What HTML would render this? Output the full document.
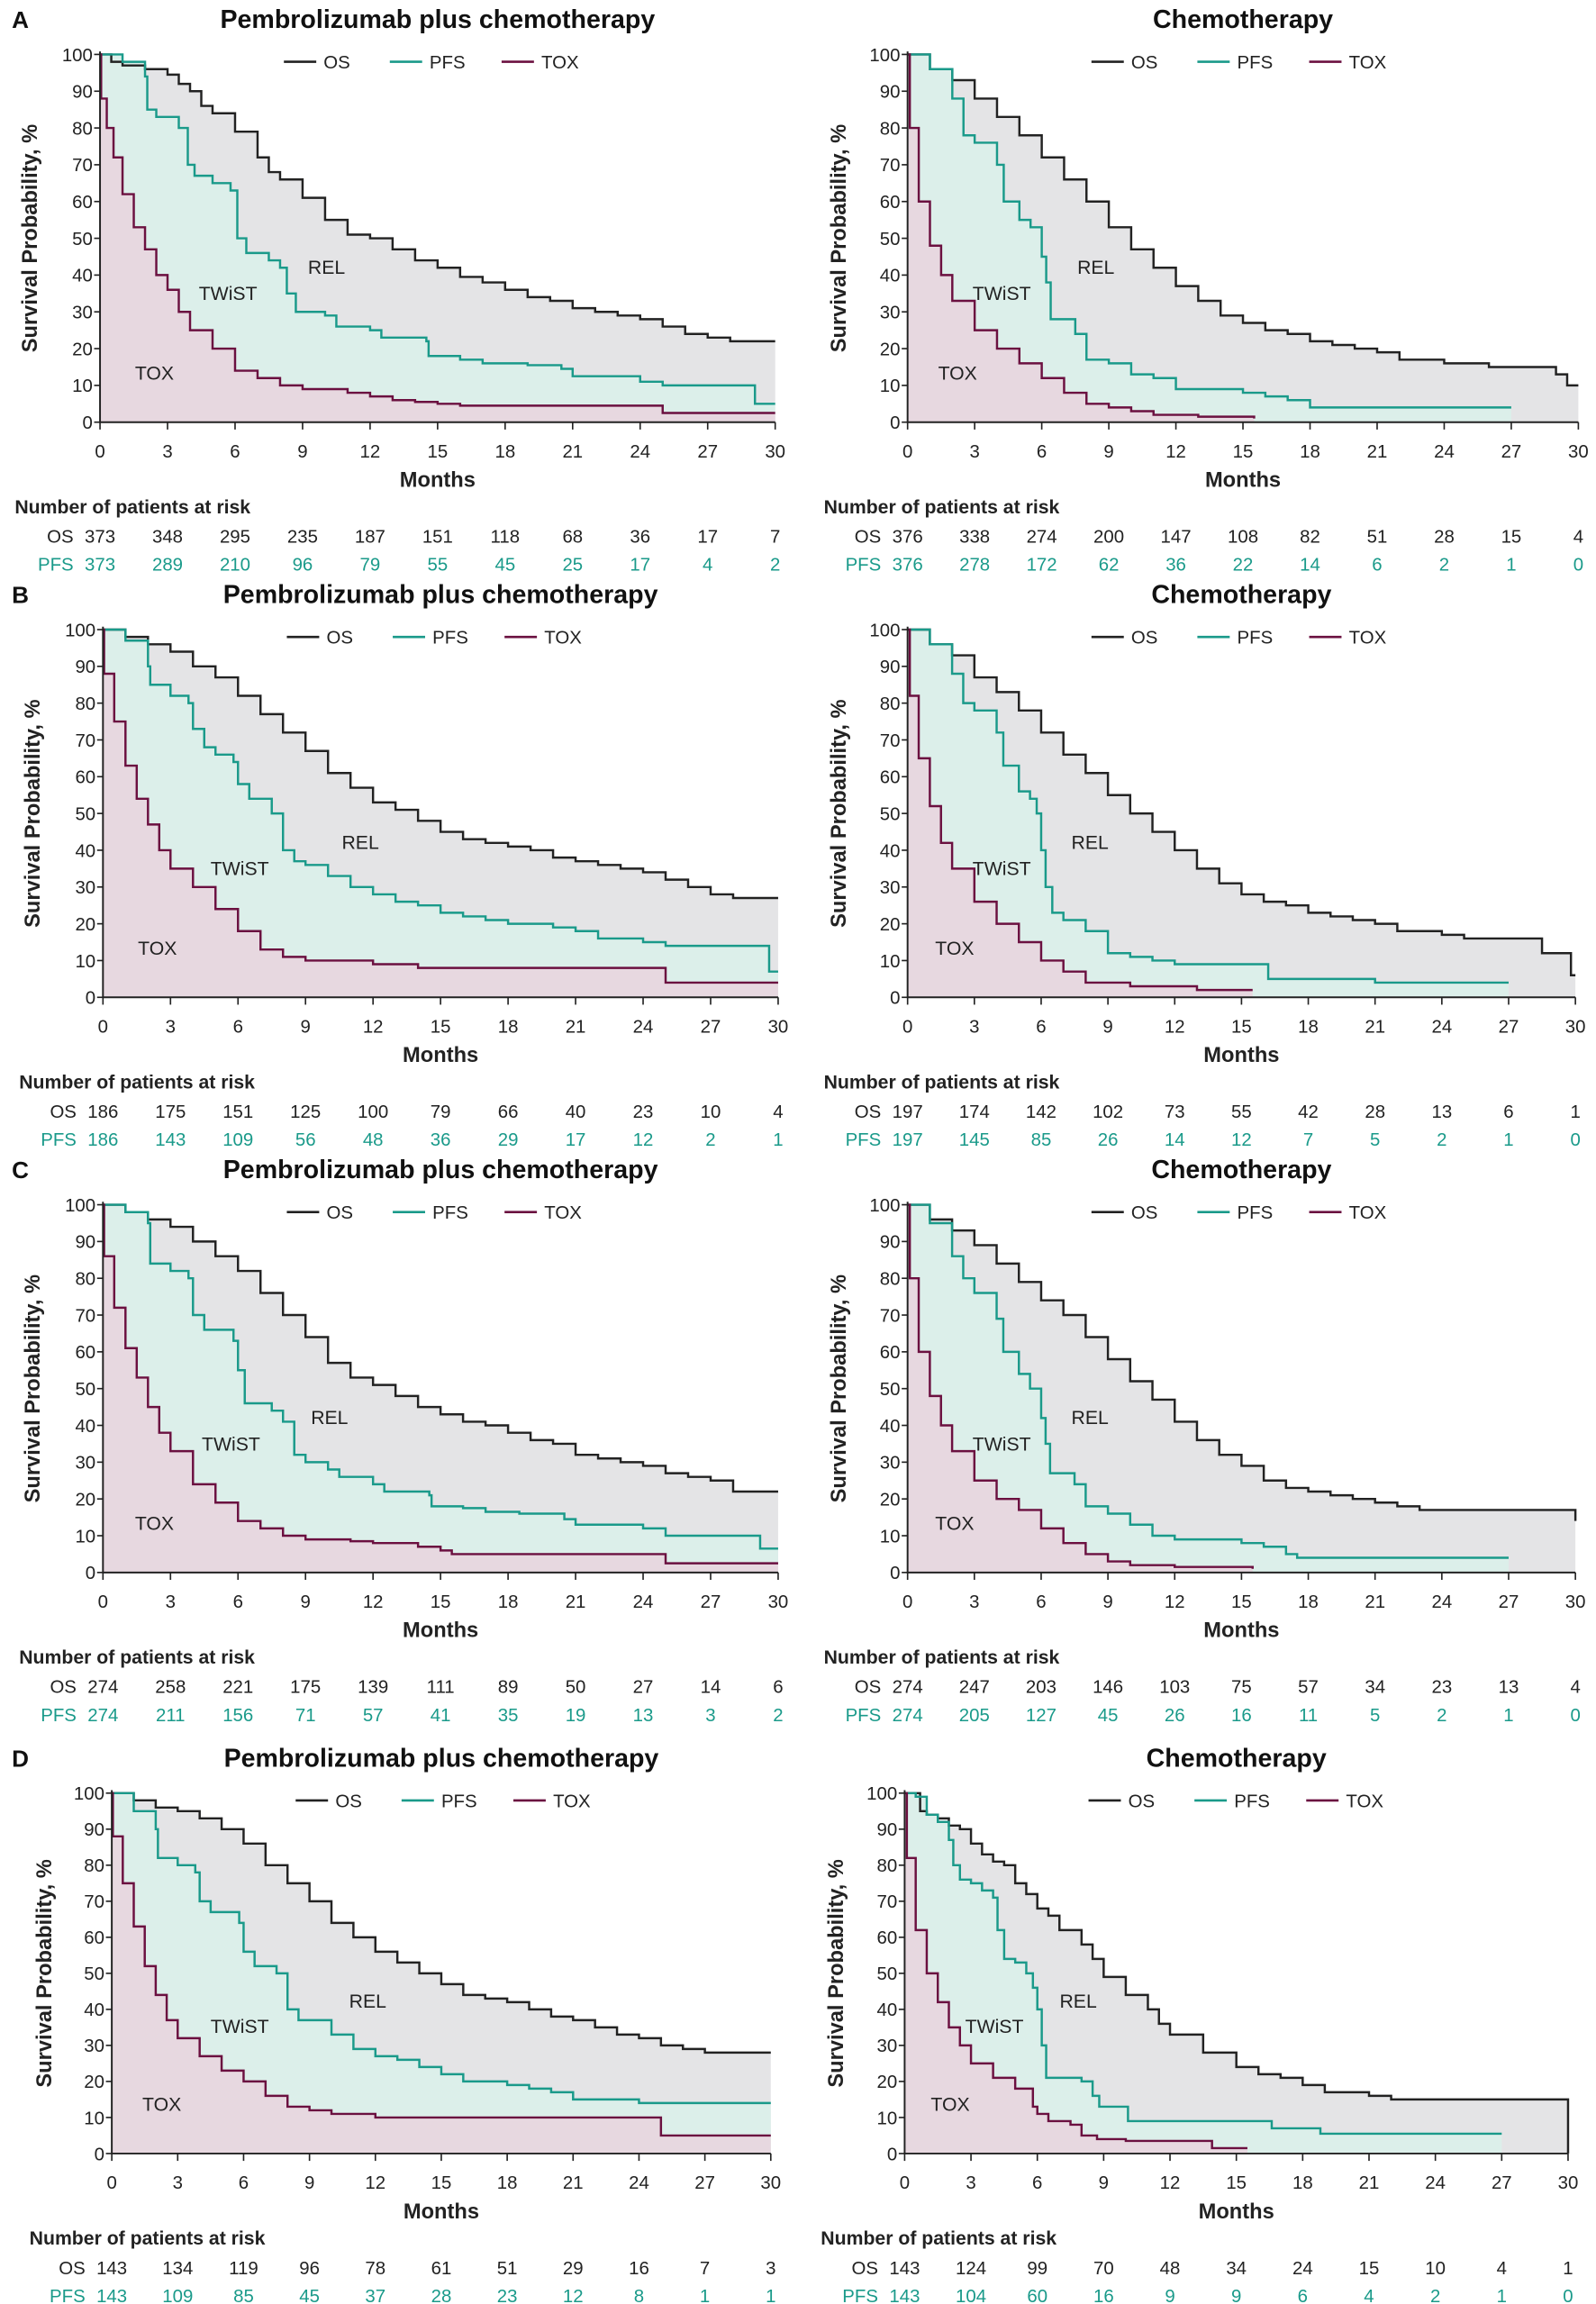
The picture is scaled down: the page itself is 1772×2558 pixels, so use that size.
<!DOCTYPE html>
<html><head><meta charset="utf-8"><style>
html,body{margin:0;padding:0;background:#fff}
svg{display:block}
text{font-family:"Liberation Sans",Arial,sans-serif}
</style></head><body>
<svg id="fig" width="1772" height="2558" viewBox="0 0 1085 1566.3" preserveAspectRatio="none" xmlns="http://www.w3.org/2000/svg"></svg>
<script>
// ---- data arrays (time in months, survival %) ----
const xTicks = [0,3,6,9,12,15,18,21,24,27,30];
const yTicks = [0,10,20,30,40,50,60,70,80,90,100];

const A_L_OS = [[0,100],[0.5,98],[1,97],[2,96],[3,94.5],[3.5,92],[4,90],[4.5,86],[5,84],[6,79],[7,72],[7.5,68],[8,66],[9,61],[10,55],[11,51],[12,50],[13,47],[14,44],[15,42],[16,39.5],[17,38],[18,36],[19,34],[20,33],[21,31],[22,30],[23,29],[24,28],[25,26],[26,24],[27,23],[28,22],[30,22]];
const A_L_PFS = [[0,100],[1,98],[2,94],[2.1,85],[2.5,83],[3.5,80],[3.9,70],[4.2,67],[5,65],[5.8,63],[6.1,50],[6.5,46],[7.5,44],[8,42],[8.3,35],[8.7,30],[10,29],[10.5,26],[12,25],[12.5,23],[14.5,22],[14.6,18],[16,17],[17,16],[19,15.5],[20.5,14.5],[21,12.5],[24,11],[25,10],[29,10],[29.1,5],[30,5]];
const A_L_TOX = [[0,100],[0.05,88],[0.3,80],[0.6,72],[1,62],[1.5,53],[2,47],[2.5,40],[3,36],[3.5,30],[4,25],[5,20],[6,14],[7,12],[8,10],[9,9],[11,8],[12,7],[13,6],[14,5.5],[15,5],[16,4.5],[24.8,4.5],[25,2.5],[30,2.5]];

const A_R_OS = [[0,100],[1,96],[2,93],[3,88],[4,83],[5,78],[6,72],[7,66],[8,60],[9,53],[10,47],[11,42],[12,37],[13,33],[14,29],[15,27],[16,25],[17,24],[18,22],[19,21],[20,20],[21,19],[22,17],[24,16],[26,15],[28,15],[29,13],[29.5,10],[30,10]];
const A_R_PFS = [[0,100],[1,96],[2,88],[2.5,78],[3,76],[4,70],[4.3,60],[5,55],[5.5,53],[6,45],[6.2,38],[6.4,28],[7,28],[7.5,24],[8,17],[9,16],[10,13],[11,12],[12,9],[15,8],[16,7],[17,6],[18,4],[27,4]];
const A_R_TOX = [[0,100],[0.1,80],[0.5,60],[1,48],[1.5,40],[2,33],[3,25],[4,20],[5,16],[6,12],[7,8],[8,5],[9,4],[10,3],[11,2],[13,1.5],[15.5,1]];

const B_L_OS = [[0,100],[1,98],[2,96],[3,94],[4,90],[5,87],[6,82],[7,77],[8,72],[9,67],[10,61],[11,57],[12,53],[13,51],[14,48],[15,45],[16,43],[17,42],[18,41],[19,40],[20,38],[21,37],[22,36],[23,35],[24,34],[25,32],[26,30],[27,28],[28,27],[30,27]];
const B_L_PFS = [[0,100],[1,97],[2,90],[2.1,85],[3,82],[3.8,80],[4,73],[4.5,68],[5,66],[5.8,64],[6,58],[6.5,54],[7.5,50],[8,40],[8.5,37],[9,36],[10,33],[11,30],[12,28],[13,26],[14,25],[15,23],[16,22],[17,21],[18,20],[20,19],[21,18],[22,16],[24,15],[25,14],[29.5,14],[29.6,7],[30,7]];
const B_L_TOX = [[0,100],[0.05,88],[0.5,75],[1,63],[1.5,54],[2,47],[2.5,40],[3,35],[4,30],[5,24],[6,18],[7,13],[8,11],[9,10],[11,10],[12,9],[14,8],[24.8,8],[25,4],[30,4]];

const B_R_OS = [[0,100],[1,96],[2,93],[3,87],[4,83],[5,78],[6,72],[7,66],[8,61],[9,55],[10,50],[11,45],[12,40],[13,35],[14,31],[15,28],[16,26],[17,25],[18,23],[19,22],[20,21],[21,20],[22,18],[24,17],[25,16],[28,16],[28.5,12],[29.5,12],[29.8,6],[30,6]];
const B_R_PFS = [[0,100],[1,96],[2,88],[2.5,80],[3,78],[4,72],[4.3,63],[5,56],[5.5,54],[5.8,50],[6,40],[6.2,30],[6.5,23],[7,21],[8,18],[9,12],[10,11],[11,10],[12,9],[16,9],[16.2,5],[20,5],[21,4],[27,4]];
const B_R_TOX = [[0,100],[0.1,82],[0.5,65],[1,52],[1.5,42],[2,35],[3,26],[4,20],[5,15],[6,10],[7,7],[8,4],[10,3],[12,3],[13,2],[15.5,2]];

const C_L_OS = [[0,100],[1,98],[2,96],[3,94],[4,90],[5,86],[6,82],[7,76],[8,70],[9,64],[10,57],[11,53],[12,51],[13,48],[14,45],[15,43],[16,41],[17,40],[18,38],[19,36],[20,35],[21,32],[22,31],[23,30],[24,29],[25,27],[26,26],[27,25],[28,22],[30,22]];
const C_L_PFS = [[0,100],[1,98],[2,95],[2.1,84],[3,82],[3.8,80],[4,70],[4.5,66],[5.8,63],[6,55],[6.3,46],[7.5,44],[8,41],[8.5,32],[9,30],[10,28],[10.5,26],[12,24],[12.5,22],[14.5,21],[14.6,18],[16,17.5],[17,16.5],[18.5,16],[20.5,14.5],[21,13],[24,12],[25,10],[29,10],[29.2,6.5],[30,6.5]];
const C_L_TOX = [[0,100],[0.05,86],[0.5,72],[1,61],[1.5,53],[2,45],[2.5,38],[3,33],[4,24],[5,19],[6,14],[7,12],[8,10],[9,9],[11,8.5],[12,8],[14,7],[15,6],[15.5,5],[24.8,5],[25,2.5],[30,2.5]];

const C_R_OS = [[0,100],[1,96],[2,93],[3,89],[4,84],[5,79],[6,74],[7,70],[8,64],[9,58],[10,52],[11,47],[12,41],[13,36],[14,32],[15,29],[16,25],[17,23],[18,22],[19,21],[20,20],[21,19],[22,18],[23,17],[29.8,17],[30,14]];
const C_R_PFS = [[0,100],[1,95],[2,86],[2.5,80],[3,76],[4,69],[4.3,60],[5,54],[5.5,50],[6,42],[6.2,35],[6.4,27],[7,27],[7.5,24],[8,18],[9,16],[10,13],[11,10],[12,9],[15,8],[16,7],[17,5],[17.5,4],[27,4]];
const C_R_TOX = [[0,100],[0.1,80],[0.5,60],[1,48],[1.5,40],[2,33],[3,25],[4,20],[5,17],[6,12],[7,8],[8,5],[9,3],[10,2],[12,1.5],[15.5,1]];

const D_L_OS = [[0,100],[1,98],[2,96],[3,95],[4,93],[5,90],[6,86],[7,80],[8,75],[9,70],[10,64],[11,60],[12,56],[13,53],[14,50],[15,47],[16,44],[17,43],[18,42],[19,40],[20,38],[21,37],[22,35],[23,33],[24,32],[25,30],[26,29],[27,28],[30,28]];
const D_L_PFS = [[0,100],[1,95],[2,90],[2.1,82],[3,80],[3.8,78],[4,70],[4.5,67],[5.8,64],[6,56],[6.5,52],[7.5,50],[8,40],[8.5,37],[10,33],[11,29],[12,27],[13,26],[14,24],[15,22],[16,20],[18,19],[19,18],[20,17],[21,15],[24,14],[30,14]];
const D_L_TOX = [[0,100],[0.05,88],[0.5,75],[1,63],[1.5,52],[2,44],[2.5,37],[3,32],[4,27],[5,23],[6,20],[7,16],[8,13],[9,12],[10,11],[12,10],[24.8,10],[25,5],[30,5]];

const D_R_OS = [[0,100],[0.7,95],[1,94],[1.5,93],[2,91],[2.5,90],[3,86],[3.5,83],[4,81],[4.5,80],[5,75],[5.5,72],[6,68],[6.5,66],[7,62],[8,58],[8.5,54],[9,49],[10,44],[11,40],[11.5,36],[12,33],[13,33],[13.5,28],[14,28],[15,24],[16,22],[17,21],[18,19],[19,17],[20,17],[21,16],[22,15],[30,15],[30,0]];
const D_R_PFS = [[0,100],[0.5,99],[1,94],[1.5,92],[2,87],[2.2,80],[2.5,76],[3,75],[3.5,73],[4,71],[4.2,62],[4.5,54],[5,53],[5.5,50],[5.8,46],[6,40],[6.2,30],[6.4,21],[8,20],[8.5,16],[8.8,13],[10,13],[10.1,9],[16.4,9],[16.6,7],[18.5,7],[18.8,5.5],[27,5.5]];
const D_R_TOX = [[0,100],[0.1,82],[0.5,62],[1,50],[1.5,42],[2,35],[2.5,30],[3,25],[4,21],[5,18],[5.7,18],[5.8,13],[6,11],[6.5,9],[7.5,8],[8,5],[8.7,4],[10,3.5],[13.8,3.5],[13.9,1.5],[15.5,1.5]];

const A_L_RISK_OS = [373,348,295,235,187,151,118,68,36,17,7];
const A_L_RISK_PFS = [373,289,210,96,79,55,45,25,17,4,2];
const A_R_RISK_OS = [376,338,274,200,147,108,82,51,28,15,4];
const A_R_RISK_PFS = [376,278,172,62,36,22,14,6,2,1,0];
const B_L_RISK_OS = [186,175,151,125,100,79,66,40,23,10,4];
const B_L_RISK_PFS = [186,143,109,56,48,36,29,17,12,2,1];
const B_R_RISK_OS = [197,174,142,102,73,55,42,28,13,6,1];
const B_R_RISK_PFS = [197,145,85,26,14,12,7,5,2,1,0];
const C_L_RISK_OS = [274,258,221,175,139,111,89,50,27,14,6];
const C_L_RISK_PFS = [274,211,156,71,57,41,35,19,13,3,2];
const C_R_RISK_OS = [274,247,203,146,103,75,57,34,23,13,4];
const C_R_RISK_PFS = [274,205,127,45,26,16,11,5,2,1,0];
const D_L_RISK_OS = [143,134,119,96,78,61,51,29,16,7,3];
const D_L_RISK_PFS = [143,109,85,45,37,28,23,12,8,1,1];
const D_R_RISK_OS = [143,124,99,70,48,34,24,15,10,4,1];
const D_R_RISK_PFS = [143,104,60,16,9,9,6,4,2,1,0];

const COL_OS='#222222', COL_PFS='#1a9a8a', COL_TOX='#6b1040';
const NS='http://www.w3.org/2000/svg';
const svg=document.getElementById('fig');
function el(tag,attrs,parent,txt){const e=document.createElementNS(NS,tag);for(const k in attrs)e.setAttribute(k,attrs[k]);if(txt!==undefined)e.textContent=txt;(parent||svg).appendChild(e);return e;}

function stepPath(pts,sx,sy){let d='M'+sx(pts[0][0])+' '+sy(pts[0][1]);for(let i=1;i<pts.length;i++){d+=' H'+sx(pts[i][0])+' V'+sy(pts[i][1]);}return d;}
function areaPath(pts,sx,sy){const last=pts[pts.length-1][0];return stepPath(pts,sx,sy)+' H'+sx(last)+' V'+sy(0)+' H'+sx(0)+' Z';}

const panels=[
 {id:'a',letter:'A',off:0,plots:[
  {side:'l',x0:68,x1:527,y100:37,y0:287,os:A_L_OS,pfs:A_L_PFS,tox:A_L_TOX,ros:A_L_RISK_OS,rpfs:A_L_RISK_PFS,title:'Pembrolizumab plus chemotherapy',ylx:20,hx:10,lab:[[222,181],[155,199],[105,253]]},
  {side:'r',x0:617,x1:1073,y100:37,y0:287,os:A_R_OS,pfs:A_R_PFS,tox:A_R_TOX,ros:A_R_RISK_OS,rpfs:A_R_RISK_PFS,title:'Chemotherapy',ylx:570,hx:560,lab:[[745,181],[681,199],[651,253]]}]},
 {id:'b',letter:'B',off:391,plots:[
  {side:'l',x0:70,x1:529,y100:428,y0:678,os:B_L_OS,pfs:B_L_PFS,tox:B_L_TOX,ros:B_L_RISK_OS,rpfs:B_L_RISK_PFS,title:'Pembrolizumab plus chemotherapy',ylx:22,hx:13,lab:[[245,572],[163,590],[107,644]]},
  {side:'r',x0:617,x1:1071,y100:428,y0:678,os:B_R_OS,pfs:B_R_PFS,tox:B_R_TOX,ros:B_R_RISK_OS,rpfs:B_R_RISK_PFS,title:'Chemotherapy',ylx:570,hx:560,lab:[[741,572],[681,590],[649,644]]}]},
 {id:'c',letter:'C',off:782,plots:[
  {side:'l',x0:70,x1:529,y100:819,y0:1069,os:C_L_OS,pfs:C_L_PFS,tox:C_L_TOX,ros:C_L_RISK_OS,rpfs:C_L_RISK_PFS,title:'Pembrolizumab plus chemotherapy',ylx:22,hx:13,lab:[[224,963],[157,981],[105,1035]]},
  {side:'r',x0:617,x1:1071,y100:819,y0:1069,os:C_R_OS,pfs:C_R_PFS,tox:C_R_TOX,ros:C_R_RISK_OS,rpfs:C_R_RISK_PFS,title:'Chemotherapy',ylx:570,hx:560,lab:[[741,963],[681,981],[649,1035]]}]},
 {id:'d',letter:'D',off:1182,plots:[
  {side:'l',x0:76,x1:524,y100:1219,y0:1464,os:D_L_OS,pfs:D_L_PFS,tox:D_L_TOX,ros:D_L_RISK_OS,rpfs:D_L_RISK_PFS,title:'Pembrolizumab plus chemotherapy',ylx:30,hx:20,lab:[[250,1360],[163,1377],[110,1430]]},
  {side:'r',x0:615,x1:1066,y100:1219,y0:1464,os:D_R_OS,pfs:D_R_PFS,tox:D_R_TOX,ros:D_R_RISK_OS,rpfs:D_R_RISK_PFS,title:'Chemotherapy',ylx:568,hx:558,lab:[[733,1360],[676,1377],[646,1430]]}]}
];

panels.forEach(P=>{
  const g=el('g',{});
  
  
  const isD=P.id==='d';
  const lt=el('text',{x:8,y:(isD?1201:19+P.off),'font-size':16,'font-weight':'bold',fill:'#111'},g,P.letter);
  
  
  P.plots.forEach(p=>{
    const sx=t=>p.x0+(t/30)*(p.x1-p.x0);
    const sy=v=>p.y0-(v/100)*(p.y0-p.y100);
    const pg=el('g',{},g);
    
    
    const cx=(p.x0+p.x1)/2;
    const titleY=p.y100-18;
    const tt=el('text',{x:cx,y:titleY,'text-anchor':'middle','font-size':17.5,'font-weight':'bold',fill:'#111'},pg,p.title);
    
    
    // areas
    const aOS=el('path',{d:areaPath(p.os,sx,sy),fill:'#e4e4e6'},pg);
    
    
    const aP=el('path',{d:areaPath(p.pfs,sx,sy),fill:'#dcefea'},pg);
    
    
    const aT=el('path',{d:areaPath(p.tox,sx,sy),fill:'#e7d8e0'},pg);
    
    
    // curves
    [[p.os,COL_OS,'os-curve'],[p.pfs,COL_PFS,'pfs-curve'],[p.tox,COL_TOX,'tox-curve']].forEach(([pts,c,n])=>{
      const l=el('path',{d:stepPath(pts,sx,sy),fill:'none',stroke:c,'stroke-width':1.5},pg);
      
      
    });
    // axes
    const ax=el('path',{d:`M${p.x0} ${p.y100-2} V${p.y0} H${p.x1}`,fill:'none',stroke:'#222','stroke-width':1.2},pg);
    
    
    yTicks.forEach(v=>{
      el('line',{x1:p.x0-4,x2:p.x0,y1:sy(v),y2:sy(v),stroke:'#222','stroke-width':1},pg);
      const t=el('text',{x:p.x0-5,y:sy(v)+4.5,'text-anchor':'end','font-size':12.5,fill:'#222'},pg,String(v));
      
      
    });
    xTicks.forEach((m,i)=>{
      el('line',{x1:sx(m),x2:sx(m),y1:p.y0,y2:p.y0+5,stroke:'#222','stroke-width':1},pg);
      const t=el('text',{x:sx(m),y:p.y0+24,'text-anchor':'middle','font-size':12.5,fill:'#222'},pg,String(m));
      
      
      const r1=el('text',{x:sx(m),y:p.y0+82,'text-anchor':'middle','font-size':12.5,fill:'#222'},pg,String(p.ros[i]));
      
      
      const r2=el('text',{x:sx(m),y:p.y0+101,'text-anchor':'middle','font-size':12.5,fill:COL_PFS},pg,String(p.rpfs[i]));
      
      
    });
    const mo=el('text',{x:cx,y:p.y0+44,'text-anchor':'middle','font-size':14.5,'font-weight':'bold',fill:'#222'},pg,'Months');
    
    
    const yl=el('text',{x:0,y:0,transform:`translate(${p.ylx+5},${(p.y0+p.y100)/2}) rotate(-90)`,'text-anchor':'middle','font-size':14.5,'font-weight':'bold',fill:'#222'},pg,'Survival Probability, %');
    
    
    const hd=el('text',{x:p.hx,y:p.y0+62,'font-size':13,'font-weight':'bold',fill:'#222'},pg,'Number of patients at risk');
    
    
    const lo=el('text',{x:p.x0-18,y:p.y0+82,'text-anchor':'end','font-size':12.5,fill:'#222'},pg,'OS');
    
    
    const lp=el('text',{x:p.x0-18,y:p.y0+101,'text-anchor':'end','font-size':12.5,fill:COL_PFS},pg,'PFS');
    
    
    // legend
    const ly=p.y100+5;
    [['OS',COL_OS,125],['PFS',COL_PFS,197],['TOX',COL_TOX,273]].forEach(([n,c,dx])=>{
      const lg=el('g',{},pg);
      
      
      el('line',{x1:p.x0+dx,x2:p.x0+dx+22,y1:ly,y2:ly,stroke:c,'stroke-width':1.6},lg);
      el('text',{x:p.x0+dx+27,y:ly+4.5,'font-size':12.5,fill:'#222'},lg,n);
    });
    // region labels
    [['REL','rel-label'],['TWiST','twist-label'],['TOX','tox-label']].forEach(([s,n],i)=>{
      const t=el('text',{x:p.lab[i][0],y:p.lab[i][1]+5,'text-anchor':'middle','font-size':13,fill:'#222'},pg,s);
      
      
    });
  });
});
</script>
</body></html>
